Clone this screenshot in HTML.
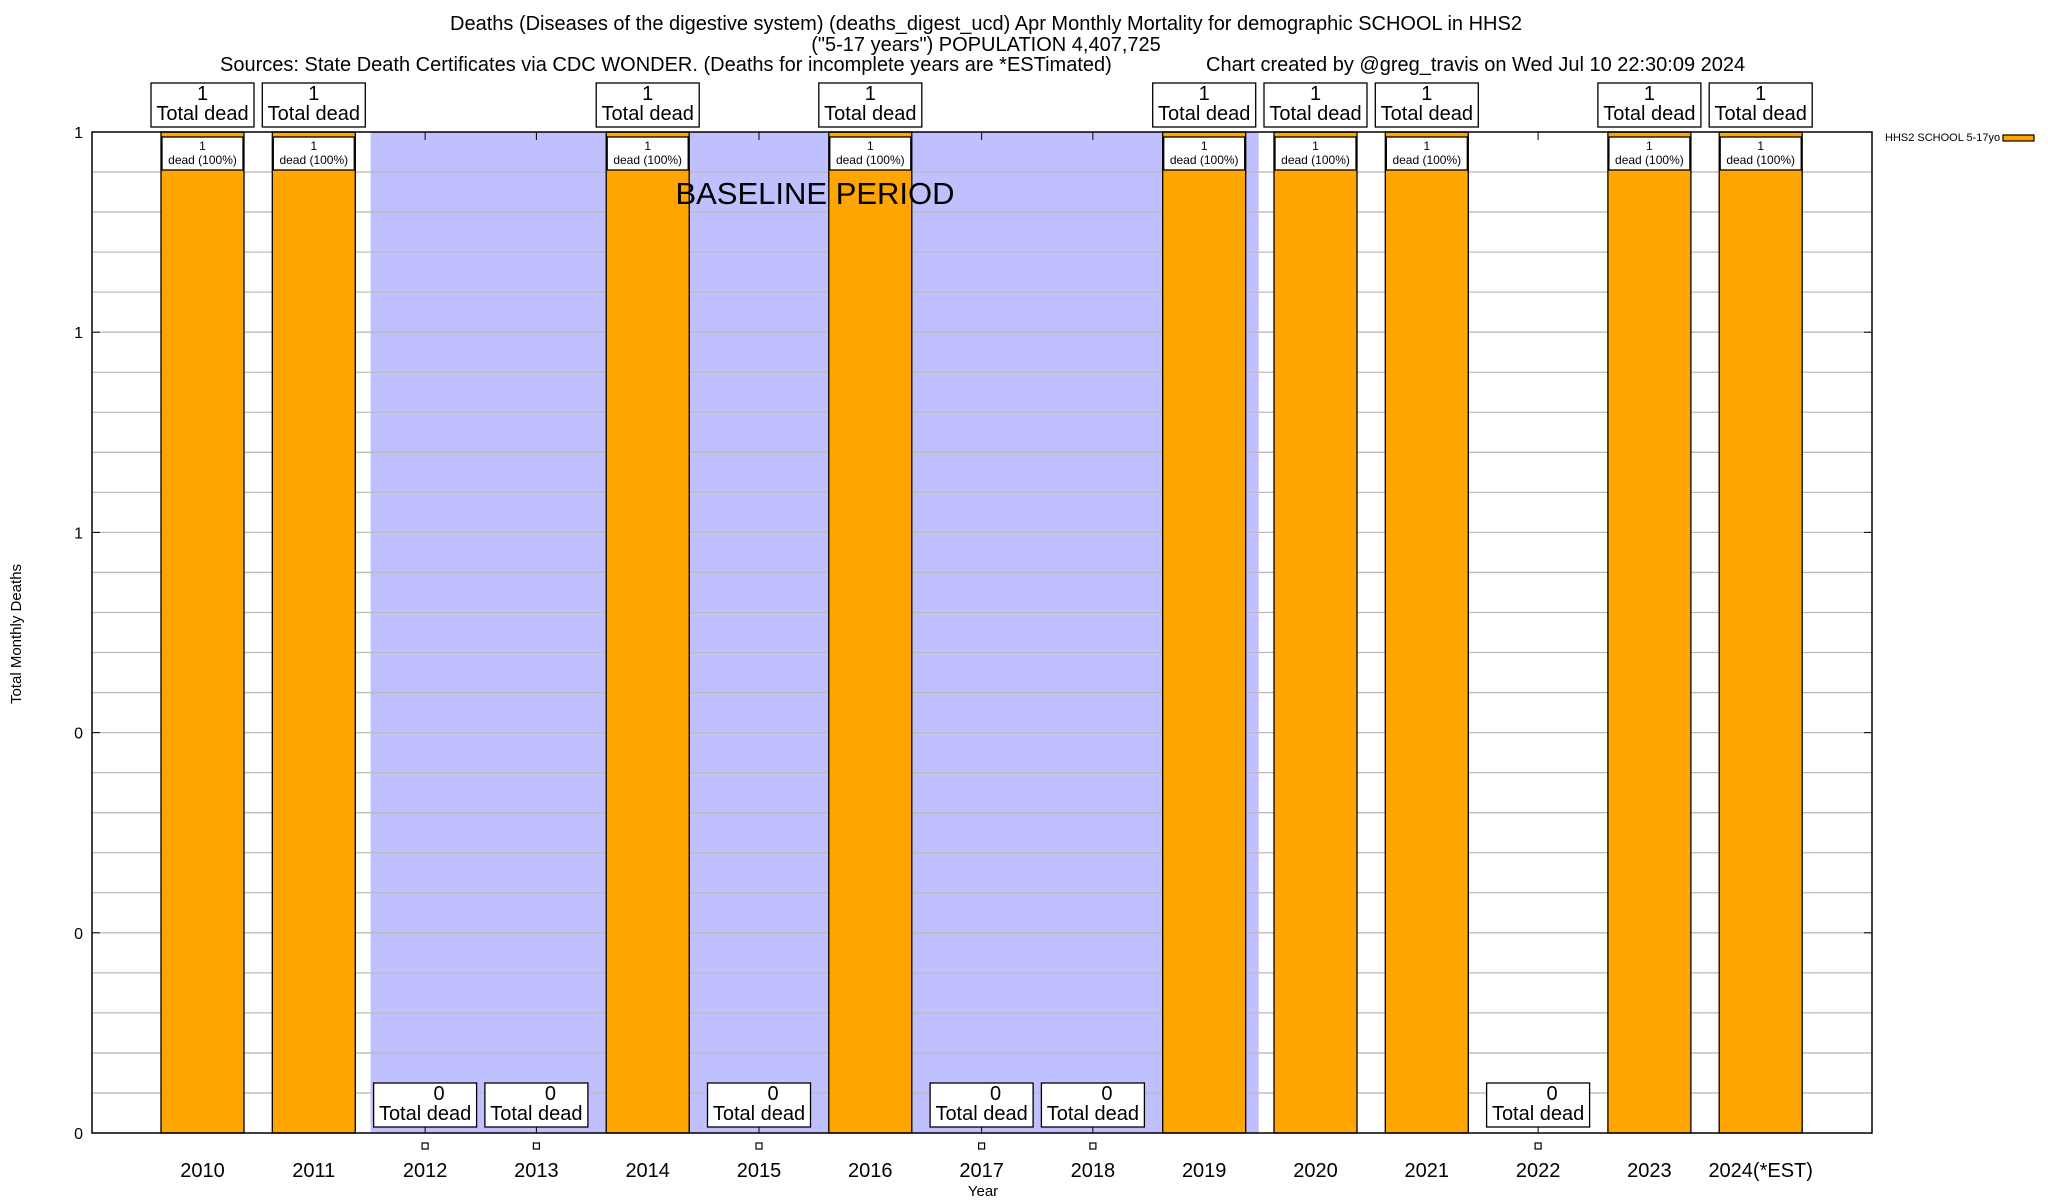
<!DOCTYPE html>
<html><head><meta charset="utf-8"><style>
html,body{margin:0;padding:0;background:#fff;}
svg{display:block;font-family:"Liberation Sans",sans-serif;}
</style></head><body>
<svg id="chart" width="2048" height="1200" viewBox="0 0 2048 1200" xmlns="http://www.w3.org/2000/svg">
<g font-size="20" text-anchor="middle">
<text x="986" y="30">Deaths (Diseases of the digestive system) (deaths_digest_ucd) Apr Monthly Mortality for demographic SCHOOL in HHS2</text>
<text x="986" y="51">("5-17 years") POPULATION 4,407,725</text>
<text x="220" y="71" text-anchor="start">Sources: State Death Certificates via CDC WONDER. (Deaths for incomplete years are *ESTimated)</text>
<text x="1206" y="71" text-anchor="start">Chart created by @greg_travis on Wed Jul 10 22:30:09 2024</text>
</g>
<g id="plot"></g>
</svg>
<script>
const years = ["2010","2011","2012","2013","2014","2015","2016","2017","2018","2019","2020","2021","2022","2023","2024(*EST)"];
const deaths = [1,1,0,0,1,0,1,0,0,1,1,1,0,1,1];
const yTickValues = [0,0.2,0.4,0.6,0.8,1];
const yTickLabels = ["0","0","0","1","1","1"];
const baselineRange = [1.51, 9.49];

const NS="http://www.w3.org/2000/svg";
const L=92,R=1872,T=132,B=1133;
const x0=202.5, step=111.3, barW=83;
const xs=i=>x0+i*step;
const ys=v=>B-(v/1)*(B-T);
const g=document.getElementById('plot');
function mk(tag,attrs,parent){const e=document.createElementNS(NS,tag);for(const k in attrs)e.setAttribute(k,attrs[k]);(parent||g).appendChild(e);return e;}

const shade=mk('rect',{x:xs(baselineRange[0]),y:T,width:xs(baselineRange[1])-xs(baselineRange[0]),height:B-T,fill:'#c0c0fe'});



for(let k=1;k<25;k++){const v=k*0.04;const gl=mk('line',{x1:L,x2:R,y1:ys(v),y2:ys(v),stroke:'#bbb','stroke-width':1.3});

}

yTickValues.forEach((v,i)=>{const t=mk('text',{x:83,y:ys(v)+6,'font-size':16,'text-anchor':'end'});t.textContent=yTickLabels[i];


mk('line',{x1:L,x2:L+8,y1:ys(v),y2:ys(v),stroke:'#000'});mk('line',{x1:R,x2:R-8,y1:ys(v),y2:ys(v),stroke:'#000'});});

years.forEach((yr,i)=>{
 const cx=xs(i),v=deaths[i];
 mk('line',{x1:cx,x2:cx,y1:T,y2:T+8,stroke:'#000'});
 if(v>0){
  const b=mk('rect',{x:cx-barW/2,y:ys(v),width:barW,height:B-ys(v),fill:'#ffa500',stroke:'#000','stroke-width':1.3});
  
  
  const ib=mk('rect',{x:cx-barW/2+1,y:ys(v)+5,width:barW-2,height:33,fill:'#fff',stroke:'#000','stroke-width':1.3});
  
  
  const t1=mk('text',{x:cx,y:ys(v)+18,'font-size':12,'text-anchor':'middle'});t1.textContent=v;
  
  
  const t2=mk('text',{x:cx,y:ys(v)+32,'font-size':12,'text-anchor':'middle'});t2.textContent='dead (100%)';
  
  
 } else {
  mk('line',{x1:cx,x2:cx,y1:B-8,y2:B,stroke:'#000'});
  const m=mk('rect',{x:cx-3,y:1143,width:6,height:6,fill:'#fff',stroke:'#000','stroke-width':1.2});
  
  
 }
 const by=v>0?83:ys(v)-50;
 const box=mk('rect',{x:cx-51.5,y:by,width:103,height:44,fill:'#fff',stroke:'#000','stroke-width':1.3});
 
 
 const a=mk('text',{x:cx+(v>0?0:14),y:by+17,'font-size':20,'text-anchor':'middle'});a.textContent=v;
 
 
 const c=mk('text',{x:cx,y:by+37,'font-size':20,'text-anchor':'middle'});c.textContent='Total dead';
 
 
 const xl=mk('text',{x:cx,y:1177,'font-size':20,'text-anchor':'middle'});xl.textContent=yr;
 
 
});

const bt=mk('text',{x:815,y:204,'font-size':31,'text-anchor':'middle'});bt.textContent='BASELINE PERIOD';



const frame=mk('rect',{x:L,y:T,width:R-L,height:B-T,fill:'none',stroke:'#000','stroke-width':1.5});



const xt=mk('text',{x:983,y:1196,'font-size':15,'text-anchor':'middle'});xt.textContent='Year';


const yt=mk('text',{x:0,y:0,'font-size':15,'text-anchor':'middle',transform:'translate(21,634) rotate(-90)'});yt.textContent='Total Monthly Deaths';



const lt=mk('text',{x:1885,y:141,'font-size':11});lt.textContent='HHS2 SCHOOL 5-17yo';


const ls=mk('rect',{x:2003,y:135,width:31,height:6,fill:'#ffa500',stroke:'#000','stroke-width':1.2});


</script>
</body></html>
